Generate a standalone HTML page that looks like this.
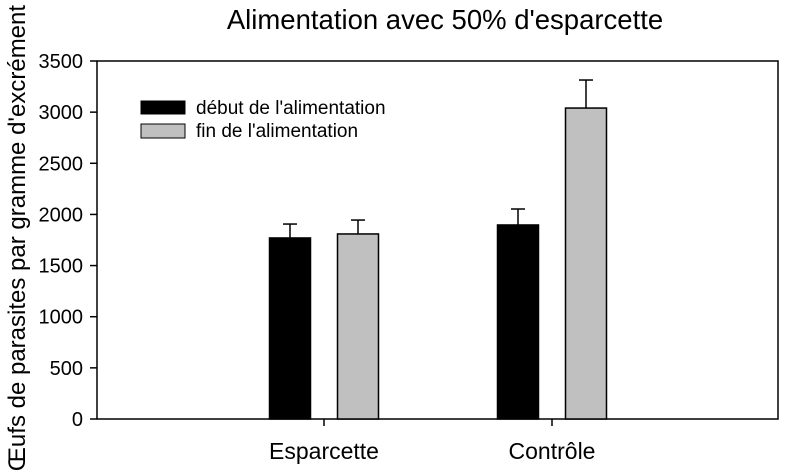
<!DOCTYPE html>
<html><head><meta charset="utf-8"><style>
body{margin:0;background:#fff;}
svg{display:block;font-family:"Liberation Sans",Arial,sans-serif;}
</style></head><body>
<svg id="chart" width="800" height="476">
<text x="445" y="29" font-size="27.5" text-anchor="middle">Alimentation avec 50% d'esparcette</text>
<text transform="translate(25,238) rotate(-90)" font-size="24" text-anchor="middle">Œufs de parasites par gramme d'excrément</text>
<rect x="97" y="61" width="681" height="358" fill="none" stroke="#000" stroke-width="1.5"/>
<g id="bars"></g>
<g id="yaxis"></g>
<g id="xaxis"></g>
<g>
<rect x="141" y="101" width="44" height="13" fill="#000" stroke="#000"/>
<text x="196" y="114" font-size="19">début de l'alimentation</text>
<rect x="141" y="124" width="44" height="14" fill="#c0c0c0" stroke="#000"/>
<text x="196" y="137" font-size="19">fin de l'alimentation</text>
</g>
</svg>
<script>
const categories = ["Esparcette", "Contrôle"];
const debutValues = [1770, 1897];
const debutErrors = [136, 156];
const finValues = [1809, 3040];
const finErrors = [136, 274];
const yTicks = [0, 500, 1000, 1500, 2000, 2500, 3000, 3500];

const NS = "http://www.w3.org/2000/svg";
const y0 = 419, yTop = 61, yMax = 3500;
function yScale(v){ return y0 - v/yMax*(y0-yTop); }
const catCenters = [324, 552];
function xCat(i){ return catCenters[0] + i*(catCenters[1]-catCenters[0]); }
const barW = 41, gap = 27;

function mk(tag, attrs, parent){
  const e = document.createElementNS(NS, tag);
  for (const k in attrs) e.setAttribute(k, attrs[k]);
  parent.appendChild(e);
  return e;
}
const bars = document.getElementById("bars");
const series = [
  {vals: debutValues, errs: debutErrors, fill: "#000", off: -(gap/2+barW), key: "debut"},
  {vals: finValues, errs: finErrors, fill: "#c0c0c0", off: gap/2, key: "fin"}
];
series.forEach(s => {
  s.vals.forEach((v, i) => {
    const x = xCat(i) + s.off;
    const yt = yScale(v);
    const ye = yScale(v + s.errs[i]);
    const cx = x + barW/2;
    const ln = mk("line", {x1: cx, x2: cx, y1: yt, y2: ye, stroke: "#000", "stroke-width": 1.5}, bars);
    
    
    const cap = mk("line", {x1: cx-7, x2: cx+7, y1: ye, y2: ye, stroke: "#000", "stroke-width": 1.5}, bars);
    
    
    const r = mk("rect", {x: x, y: yt, width: barW, height: y0 - yt, fill: s.fill, stroke: "#000", "stroke-width": 1.5}, bars);
    
    
  });
});
const ya = document.getElementById("yaxis");
yTicks.forEach(t => {
  const y = yScale(t);
  const l = mk("line", {x1: 90, x2: 97, y1: y, y2: y, stroke: "#000", "stroke-width": 1.5}, ya);
  
  
  const tx = mk("text", {x: 83, y: y + 7, "font-size": 20, "text-anchor": "end"}, ya);
  tx.textContent = t;
  
  
});
const xa = document.getElementById("xaxis");
categories.forEach((c, i) => {
  const x = xCat(i);
  const l = mk("line", {x1: x, x2: x, y1: 419, y2: 426, stroke: "#000", "stroke-width": 1.5}, xa);
  
  
  const tx = mk("text", {x: x, y: 459, "font-size": 23, "text-anchor": "middle"}, xa);
  tx.textContent = c;
  
  
});
</script>
</body></html>
